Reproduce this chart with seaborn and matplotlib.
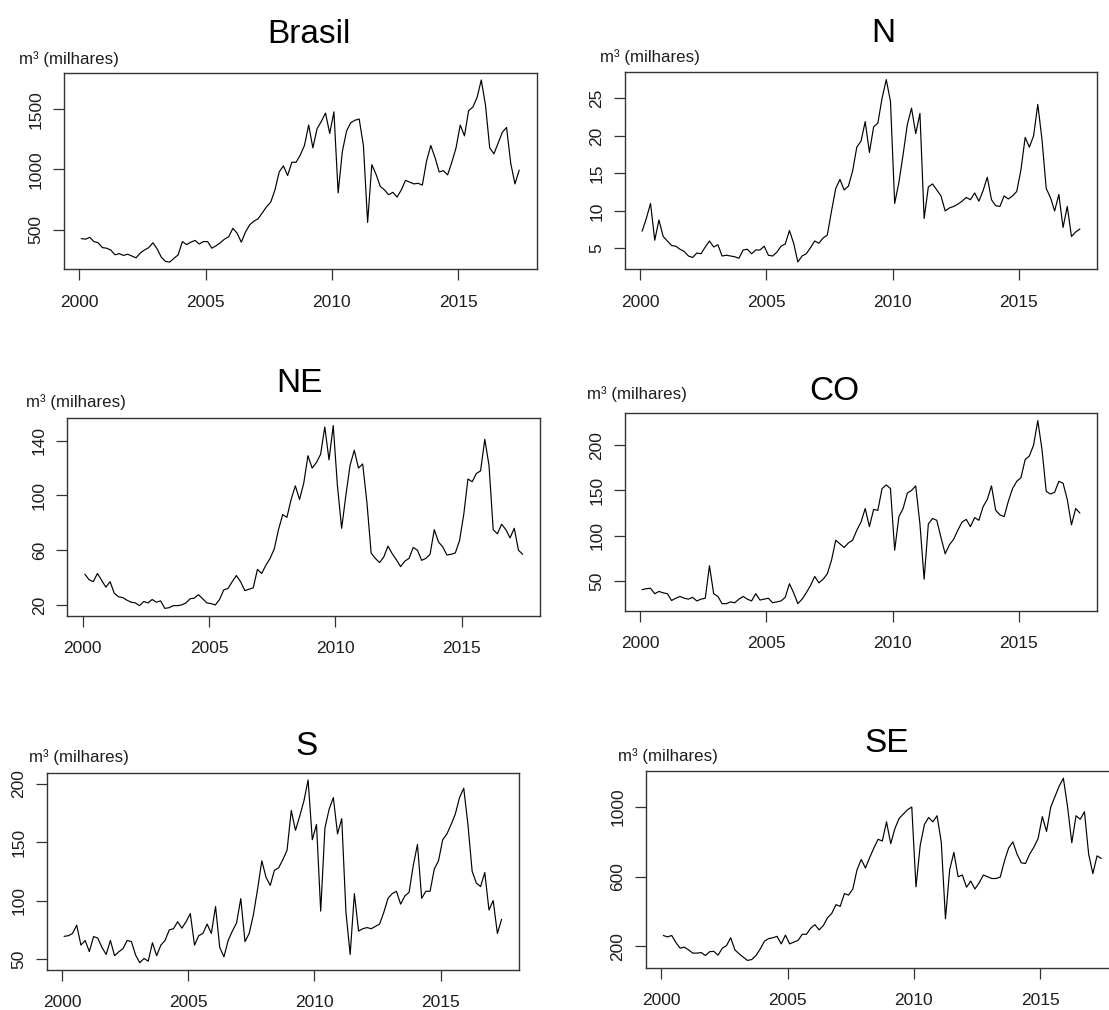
import numpy as np
import pandas as pd
import matplotlib
matplotlib.use("Agg")
import matplotlib.pyplot as plt
import seaborn as sns

# ---------------- data (bimonthly readings, Feb 2000 .. Jun 2017) ----------------
start_period = "2000-02"
n_obs = 105
step = "2MS"

brasil = [425, 420, 435, 400, 390, 350,
          345, 330, 290, 300, 285, 295,
          280, 265, 305, 330, 350, 390,
          340, 270, 235, 230, 260, 290,
          400, 375, 395, 410, 380, 400,
          400, 345, 365, 390, 420, 440,
          510, 470, 395, 480, 540, 570,
          590, 640, 690, 730, 830, 980,
          1030, 950, 1060, 1060, 1120, 1200,
          1370, 1180, 1340, 1400, 1470, 1300,
          1480, 805, 1150, 1320, 1390, 1410,
          1420, 1200, 560, 1040, 960, 860,
          830, 790, 810, 770, 830, 910,
          895, 880, 885, 870, 1070, 1200,
          1100, 980, 990, 955, 1060, 1180,
          1370, 1280, 1490, 1520, 1600, 1745,
          1535, 1180, 1130, 1220, 1310, 1350,
          1050, 880, 995]

norte = [7.3, 9.0, 11.0, 6.1, 8.8, 6.6,
         6.0, 5.4, 5.3, 4.9, 4.6, 4.0,
         3.8, 4.4, 4.3, 5.2, 6.0, 5.2,
         5.5, 4.0, 4.1, 4.0, 3.9, 3.7,
         4.8, 4.9, 4.3, 4.8, 4.8, 5.3,
         4.1, 4.0, 4.5, 5.3, 5.6, 7.4,
         5.7, 3.2, 4.0, 4.3, 5.1, 6.0,
         5.7, 6.4, 6.8, 10.0, 13.0, 14.2,
         12.8, 13.3, 15.3, 18.5, 19.3, 21.9,
         17.8, 21.2, 21.7, 25.0, 27.5, 24.6,
         11.0, 13.8, 17.5, 21.5, 23.7, 20.3,
         23.0, 9.0, 13.2, 13.6, 12.8, 12.0,
         10.0, 10.4, 10.6, 10.9, 11.3, 11.8,
         11.5, 12.4, 11.3, 12.7, 14.5, 11.5,
         10.7, 10.6, 12.0, 11.6, 12.0, 12.6,
         15.5, 19.8, 18.5, 20.0, 24.2, 19.5,
         13.0, 11.8, 10.0, 12.2, 7.8, 10.6,
         6.6, 7.2, 7.6]

nordeste = [42.5, 38.5, 37, 43, 38, 33,
            37, 28.5, 26, 25.4, 23.5, 22,
            21.5, 19.5, 22.5, 21.5, 24, 22,
            23, 17.5, 18, 19.5, 19.5, 20,
            21.5, 24.5, 25, 27.5, 24.5, 21.5,
            21, 20, 24, 31, 32, 37,
            41.5, 37, 30.5, 31.5, 32.5, 46,
            43, 49, 54, 61, 75, 86,
            84, 97, 107, 97, 109, 129,
            120, 124, 130, 150, 126, 151,
            107, 76, 100, 122, 133, 120,
            123, 95, 58, 54, 51, 55,
            63, 57.5, 53, 48, 52, 54,
            62, 60, 52.6, 54, 57, 75,
            66, 62.5, 56.5, 57, 58, 67,
            86, 112, 110, 116, 118, 141,
            122, 75, 72, 79, 75, 69,
            76, 60, 57]

centro_oeste = [40.5, 41.5, 42, 36, 38.5, 37,
                36, 28.5, 31, 33, 31, 30,
                32, 28, 30, 31, 66.8, 36,
                33, 25, 25, 27, 26, 30,
                33, 30, 28, 36, 29, 30,
                31, 26, 27, 28, 32, 47,
                37, 25, 30, 37, 45, 55,
                48, 52, 58, 73, 95, 91,
                87, 92, 95, 106, 115, 130,
                110, 129, 128, 152, 156, 152,
                84, 121, 130, 147, 150, 155,
                113, 52, 113, 119, 117, 98,
                80, 90, 96, 106, 115, 118,
                110, 120, 117, 132, 140, 155,
                128, 123, 121, 138, 152, 160,
                164, 184, 188, 200, 227, 195,
                149, 146, 148, 160, 158, 140,
                112, 130, 125]

sul = [69.5, 70, 72, 79, 62, 66,
       56.5, 69.3, 68, 60, 54, 66,
       53, 56.3, 59, 66, 65, 53.5,
       47, 50.6, 48.3, 64, 53, 62,
       66, 75, 76, 82, 76.5, 82,
       89, 62, 70, 72, 80, 72,
       95, 60, 52, 66, 74, 81,
       101.7, 65, 72, 88, 110, 134,
       120, 113, 126, 128, 135, 143,
       177, 160, 172, 185, 203, 152,
       165, 91, 162, 178, 188, 157,
       170, 90, 54, 106, 74, 76,
       77, 76, 78, 80, 90, 102,
       106, 108, 97, 104, 107, 130,
       148, 102, 108, 108, 127, 134,
       152, 157, 165, 174, 188, 196,
       165, 125, 115, 112, 124, 92,
       100, 72, 84]

sudeste = [263, 255, 263, 222, 190, 196,
           180, 162, 162, 165, 148, 170,
           172, 150, 190, 205, 250, 180,
           158, 138, 120, 125, 148, 185,
           230, 245, 250, 258, 215, 265,
           215, 225, 235, 270, 270, 305,
           325, 295, 320, 365, 390, 440,
           430, 503, 495, 530, 640, 699,
           650, 710, 765, 815, 805, 915,
           790, 877, 935, 960, 985, 1000,
           542, 780, 900, 940, 915, 950,
           800, 359, 640, 740, 600, 610,
           540, 575, 530, 565, 610, 600,
           590, 590, 598, 690, 765, 800,
           730, 680, 676, 730, 770, 820,
           945, 860, 1000, 1060, 1120, 1165,
           1000, 795, 950, 930, 973, 730,
           618, 720, 705]

titles = ["Brasil", "N", "NE", "CO", "S", "SE"]
unit_label = "m³ (milhares)"
x_ticks = [2000, 2005, 2010, 2015]
y_ticks_brasil = [500, 1000, 1500]
y_ticks_norte = [5, 10, 15, 20, 25]
y_ticks_nordeste = [20, 60, 100, 140]
y_ticks_co = [50, 100, 150, 200]
y_ticks_sul = [50, 100, 150, 200]
y_ticks_sudeste = [200, 600, 1000]

# ---------------- figure ----------------
sns.set_theme(style="white")
plt.rcParams["font.family"] = ["Liberation Sans", "DejaVu Sans"]

W, H = 1109, 1010
fig = plt.figure(figsize=(W / 100, H / 100), dpi=100)
fig.patch.set_facecolor("white")

months = pd.date_range(start_period, periods=n_obs, freq=step)
t = np.asarray(months.year + (months.month - 1) / 12.0, dtype=float)

series = [brasil, norte, nordeste, centro_oeste, sul, sudeste]
yticks = [y_ticks_brasil, y_ticks_norte, y_ticks_nordeste,
          y_ticks_co, y_ticks_sul, y_ticks_sudeste]

# layout in pixels: (left, right, top, bottom) of plot box
boxes = [(63.8, 536.7, 72.7, 269.3),
         (624.6, 1097.4, 72.3, 269.3),
         (67.3, 540.2, 418.3, 615.7),
         (624.6, 1097.4, 413.3, 611.0),
         (46.6, 519.1, 772.7, 970.0),
         (645.8, 1118.8, 771.0, 967.7)]
# title (center x, baseline y), unit label (left x, center y)
title_pos = [(308.7, 42.7), (883.6, 41.7), (299.9, 391.7),
             (834.2, 400.0), (306.9, 755.0), (887.2, 751.7)]
label_pos = [(19.3, 59.0), (600.2, 57.3), (26.3, 401.7),
             (586.8, 394.0), (28.8, 757.3), (617.9, 755.7)]

for vals, ticks, box, title, tp, lp in zip(series, yticks, boxes, titles,
                                          title_pos, label_pos):
    l, r, tp_, bt = box
    ax = fig.add_axes([l / W, 1 - bt / H, (r - l) / W, (bt - tp_) / H])
    df = pd.DataFrame({"ano": t, "valor": vals})
    sns.lineplot(data=df, x="ano", y="valor", ax=ax, color="black",
                 linewidth=0.85, estimator=None, sort=False)
    ax.margins(x=0.04, y=0.04)
    ax.set_xlabel("")
    ax.set_ylabel("")
    ax.set_xticks(x_ticks)
    ax.set_xticklabels([str(v) for v in x_ticks])
    ax.set_yticks(ticks)
    ax.set_yticklabels([str(v) for v in ticks], rotation=90, va="center")
    ax.tick_params(axis="both", direction="out", length=7.7, width=0.9,
                   color="#333333", labelcolor="#1e1e1e", labelsize=12.5,
                   bottom=True, left=True, top=False, right=False)
    ax.tick_params(axis="x", pad=10.5)
    ax.tick_params(axis="y", pad=7.0)
    for s in ax.spines.values():
        s.set_visible(True)
        s.set_color("#333333")
        s.set_linewidth(1.0)
    ax.grid(False)
    ax.set_facecolor("white")

    fig.text(tp[0] / W, 1 - tp[1] / H, title, ha="center", va="baseline",
             fontsize=24, color="black")
    fig.text(lp[0] / W, 1 - lp[1] / H, unit_label, ha="left", va="center",
             fontsize=12.2, color="#1e1e1e")

fig.savefig("out.png", dpi=100, facecolor="white")
